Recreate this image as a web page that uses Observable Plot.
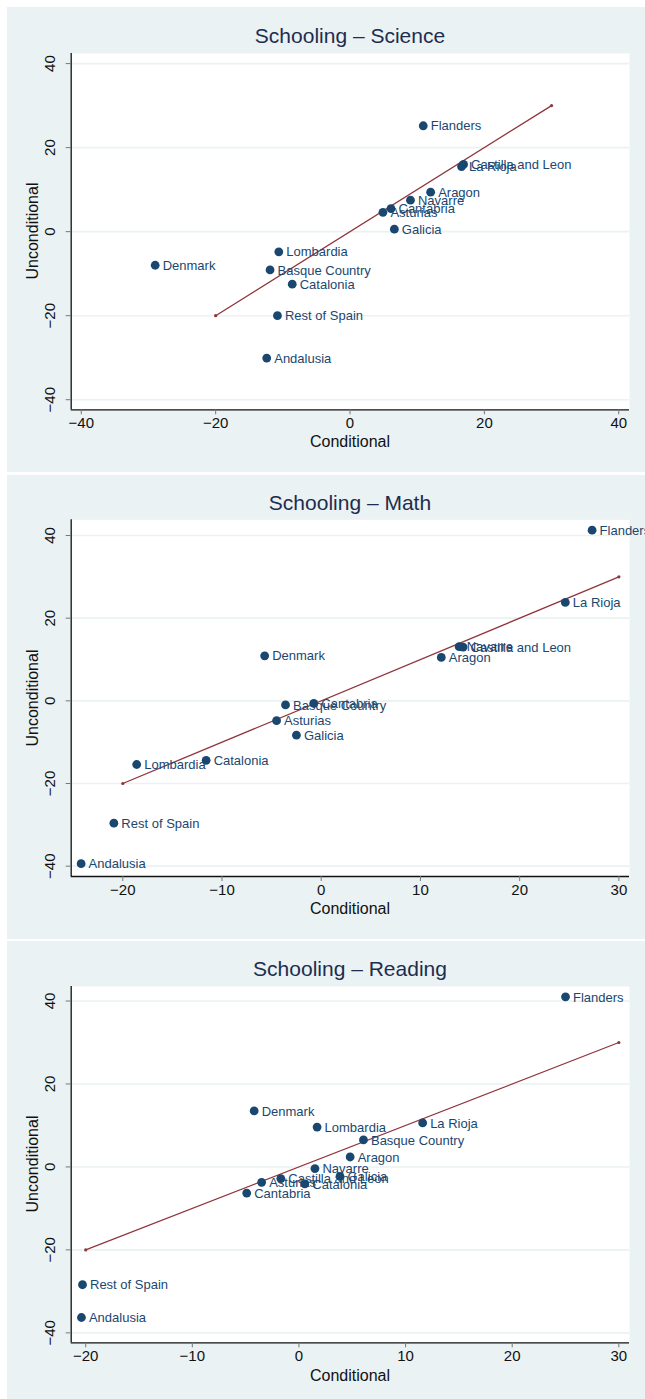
<!DOCTYPE html>
<html>
<head>
<meta charset="utf-8">
<script src="https://cdn.jsdelivr.net/npm/d3@7"></script>
<script src="https://cdn.jsdelivr.net/npm/@observablehq/plot@0.6"></script>
<style>
  html, body { margin: 0; padding: 0; background: #ffffff; width: 645px; height: 1399px; overflow: hidden; }
  .panel { position: absolute; left: 7px; width: 638px; background: #eaf2f3; overflow: hidden; }
  .panel svg { position: absolute; left: 0; top: 0; }
  .title { position: absolute; left: 0; width: 686px; text-align: center; font-family: "Liberation Sans", Arial, sans-serif; font-size: 21px; color: #1e2d4f; line-height: 1; }
  .xlab { position: absolute; left: 0; width: 686px; text-align: center; font-family: "Liberation Sans", Arial, sans-serif; font-size: 16px; color: #111; line-height: 1; }
  .ylab { position: absolute; font-family: "Liberation Sans", Arial, sans-serif; font-size: 16px; color: #111; line-height: 1; white-space: nowrap; transform: translate(-50%, -50%) rotate(-90deg); }
</style>
</head>
<body>
<div id="root"></div>
<script>
// Region names (same order for all three subjects)
const names = ["Flanders", "Castilla and Leon", "La Rioja", "Aragon", "Navarre", "Cantabria", "Asturias", "Galicia", "Lombardia", "Denmark", "Basque Country", "Catalonia", "Rest of Spain", "Andalusia"];

// Science
const scienceConditional   = [10.9, 16.9, 16.6, 12.0, 9.0, 6.1, 4.9, 6.6, -10.6, -29.0, -11.9, -8.6, -10.8, -12.4];
const scienceUnconditional = [25.2, 16.0, 15.5, 9.4, 7.5, 5.5, 4.6, 0.6, -4.8, -8.0, -9.1, -12.5, -20.0, -30.1];

// Math
const mathConditional   = [27.3, 14.3, 24.6, 12.1, 13.9, -0.75, -4.5, -2.5, -18.6, -5.7, -3.6, -11.6, -20.9, -24.2];
const mathUnconditional = [41.3, 13.0, 23.8, 10.5, 13.1, -0.6, -4.8, -8.3, -15.4, 10.9, -1.0, -14.4, -29.6, -39.4];

// Reading
const readingConditional   = [25.0, -1.7, 11.6, 4.8, 1.5, -4.9, -3.5, 3.85, 1.7, -4.2, 6.05, 0.55, -20.3, -20.4];
const readingUnconditional = [41.0, -2.8, 10.6, 2.4, -0.4, -6.3, -3.7, -2.3, 9.6, 13.5, 6.5, -4.1, -28.4, -36.3];

// 45-degree reference line end points
const fitX = [-20, 30];
const fitY = [-20, 30];

// Tick values
const yTicks = [-40, -20, 0, 20, 40];
const scienceXTicks = [-40, -20, 0, 20, 40];
const otherXTicks = [-20, -10, 0, 10, 20, 30];

const titles = ["Schooling \u2013 Science", "Schooling \u2013 Math", "Schooling \u2013 Reading"];

const NAVY = "#1a476f";
const MAROON = "#90353b";
const FONT = "'Liberation Sans', Arial, Helvetica, sans-serif";

const panels = [
  {top: 7,   height: 465, title: titles[0], cond: scienceConditional, uncond: scienceUnconditional,
   xDomain: [-41.5, 41.6], yDomain: [-42.4, 42.4], xTicks: scienceXTicks, mt: 46, mb: 62.7, titleY: 28, xlabY: 435},
  {top: 475, height: 464, title: titles[1], cond: mathConditional, uncond: mathUnconditional,
   xDomain: [-25.2, 31.07], yDomain: [-42.5, 43.8], xTicks: otherXTicks, mt: 44.3, mb: 63, titleY: 27, xlabY: 434},
  {top: 941, height: 458, title: titles[2], cond: readingConditional, uncond: readingUnconditional,
   xDomain: [-21.36, 31.0], yDomain: [-42.4, 43.5], xTicks: otherXTicks, mt: 45, mb: 56.7, titleY: 27, xlabY: 435}
];

const root = document.getElementById("root");

for (const p of panels) {
  const data = names.map((n, i) => ({name: n, x: p.cond[i], y: p.uncond[i]}));
  const fit = fitX.map((v, i) => ({x: v, y: fitY[i]}));

  const div = document.createElement("div");
  div.className = "panel";
  div.style.top = p.top + "px";
  div.style.height = p.height + "px";

  const chart = Plot.plot({
    width: 638,
    height: p.height,
    marginLeft: 63.7,
    marginRight: 16,
    marginTop: p.mt,
    marginBottom: p.mb,
    style: {background: "transparent", fontFamily: FONT, overflow: "visible"},
    x: {domain: p.xDomain, label: null},
    y: {domain: p.yDomain, label: null},
    marks: [
      Plot.frame({fill: "white", stroke: "none"}),
      Plot.gridY(yTicks, {stroke: "#eaf2f3", strokeOpacity: 1, strokeWidth: 1.6}),
      Plot.ruleX([p.xDomain[0]], {stroke: "#111", strokeWidth: 1.3}),
      Plot.ruleY([p.yDomain[0]], {stroke: "#111", strokeWidth: 1.3}),
      Plot.axisX(p.xTicks, {tickSize: 5, tickPadding: 3, fontSize: 15, stroke: "#777", fill: "#111", label: null}),
      Plot.axisY(yTicks, {tickSize: 5, tickPadding: 11, tickRotate: -90, fontSize: 15, stroke: "#777", fill: "#111", label: null}),
      Plot.line(fit, {x: "x", y: "y", stroke: MAROON, strokeWidth: 1.3}),
      Plot.dot(fit, {x: "x", y: "y", r: 1.6, fill: MAROON, stroke: "none"}),
      Plot.dot(data, {x: "x", y: "y", r: 4.4, fill: NAVY, stroke: "none"}),
      Plot.text(data, {x: "x", y: "y", text: "name", dx: 7.5, dy: 0.5, textAnchor: "start", fontSize: 13, fill: NAVY})
    ]
  });
  div.appendChild(chart);

  const t = document.createElement("div");
  t.className = "title";
  t.textContent = p.title;
  t.style.top = (p.titleY - 10.5) + "px";
  div.appendChild(t);

  const xl = document.createElement("div");
  xl.className = "xlab";
  xl.textContent = "Conditional";
  xl.style.top = (p.xlabY - 8) + "px";
  div.appendChild(xl);

  const yl = document.createElement("div");
  yl.className = "ylab";
  yl.textContent = "Unconditional";
  yl.style.left = "26px";
  yl.style.top = ((p.mt + (p.height - p.mb)) / 2) + "px";
  div.appendChild(yl);

  root.appendChild(div);
}
</script>
</body>
</html>
